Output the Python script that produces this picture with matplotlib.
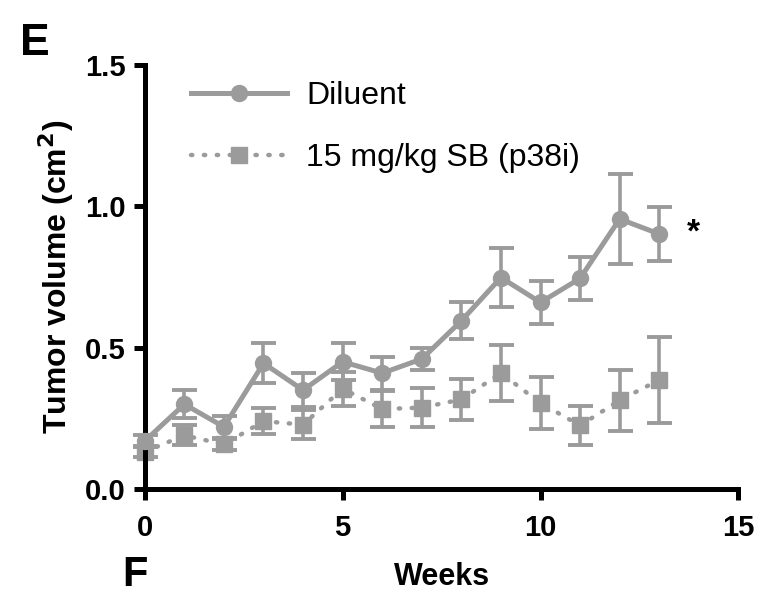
import matplotlib
matplotlib.use('Agg')
import matplotlib.pyplot as plt
from matplotlib.lines import Line2D
import numpy as np

plt.rcParams['font.family'] = ['Liberation Sans', 'DejaVu Sans']

weeks = np.arange(14)

diluent = [0.17, 0.30, 0.22, 0.445, 0.35, 0.45, 0.41, 0.46, 0.595, 0.748, 0.66, 0.745, 0.955, 0.902]
diluent_err = [0.02, 0.05, 0.04, 0.07, 0.06, 0.065, 0.058, 0.04, 0.065, 0.105, 0.075, 0.077, 0.158, 0.095]

p38i = [0.132, 0.19, 0.158, 0.24, 0.228, 0.355, 0.283, 0.288, 0.317, 0.41, 0.304, 0.225, 0.314, 0.386]
p38i_err = [0.02, 0.035, 0.02, 0.045, 0.052, 0.06, 0.065, 0.068, 0.072, 0.1, 0.093, 0.068, 0.107, 0.153]

grey = '#9b9b9b'
dots = (0, (0.3, 2.6))

fig = plt.figure(figsize=(7.62, 5.95), dpi=100)
ax = fig.add_axes([0.190, 0.178, 0.779, 0.713])

ax.errorbar(weeks, diluent, yerr=diluent_err, color=grey, lw=3.6, marker='o', ms=11.5,
            elinewidth=2.6, capsize=9, capthick=2.8, zorder=3)
ax.errorbar(weeks, p38i, yerr=p38i_err, color=grey, lw=3.2, ls=dots,
            dash_capstyle='round', marker='s', ms=11.5, elinewidth=2.6, capsize=9,
            capthick=2.8, zorder=2)

ax.text(13.7, 0.905, '*', fontsize=24, fontweight='bold', va='center', ha='left')

ax.set_xlim(0, 15)
ax.set_ylim(0, 1.5)
ax.set_xticks([0, 5, 10, 15])
ax.set_yticks([0, 0.5, 1.0, 1.5])
ax.set_yticklabels(['0.0', '0.5', '1.0', '1.5'])
for s in ['top', 'right']:
    ax.spines[s].set_visible(False)
for s in ['left', 'bottom']:
    ax.spines[s].set_linewidth(3.6)
ax.tick_params(width=3.6, length=8, labelsize=21)
ax.tick_params(axis='x', pad=10)
ax.tick_params(axis='y', pad=6)
for lab in ax.get_xticklabels() + ax.get_yticklabels():
    lab.set_fontweight('bold')
ax.set_xlabel('Weeks', fontsize=22, fontweight='bold', labelpad=14)
ax.set_ylabel('Tumor volume (cm$\\mathbf{^2}$)', fontsize=23, fontweight='bold', labelpad=6)
for c in ax.get_children():
    c.set_clip_on(False)

handles = [Line2D([], [], color=grey, lw=3.6, marker='o', ms=11.5),
           Line2D([], [], color=grey, lw=3.2, ls=dots, dash_capstyle='round',
                  marker='s', ms=11.5)]
ax.legend(handles, ['Diluent', '15 mg/kg SB (p38i)'], loc='upper left',
          bbox_to_anchor=(0.03, 1.03), frameon=False, fontsize=23,
          handlelength=3.0, labelspacing=1.0, handletextpad=0.6)

fig.text(0.026, 0.908, 'E', fontsize=32, fontweight='bold')
fig.text(0.16, 0.0, 'F', fontsize=30, fontweight='bold', va='bottom')

fig.savefig('out.png', dpi=100)
